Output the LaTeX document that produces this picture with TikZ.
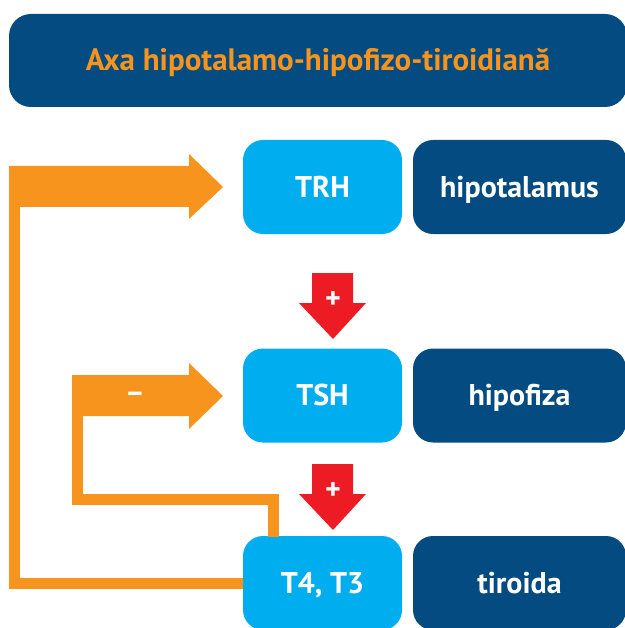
\documentclass[tikz,border=0pt]{standalone}
\usepackage{fontspec}
\setmainfont{PT Sans}
\definecolor{dblue}{HTML}{034B80}
\definecolor{lblue}{HTML}{00AEEF}
\definecolor{orng}{HTML}{F7941D}
\definecolor{rred}{HTML}{ED1C24}
\begin{document}
\begin{tikzpicture}[x=1pt,y=-1pt,
  hbox/.style={rounded corners=20pt,fill=lblue,text=white,font=\bfseries\fontsize{30}{34}\selectfont,minimum width=159pt,minimum height=94pt,inner sep=0pt,text height=20pt,text depth=0pt},
  obox/.style={rounded corners=20pt,fill=dblue,text=white,font=\bfseries\fontsize{30}{34}\selectfont,minimum width=213pt,minimum height=94pt,inner sep=0pt,text height=20pt,text depth=0pt},
  fb/.style={draw=orng,line width=11pt},
  sign/.style={text=white,font=\bfseries\fontsize{30}{30}\selectfont,inner sep=0pt}]
\useasboundingbox (0,0) rectangle (624,628);
% title
\node[rounded corners=22pt,fill=dblue,minimum width=618pt,minimum height=93pt,inner sep=0pt,
  text height=20pt,text depth=0pt,
  text=orng,font=\bfseries\fontsize{31}{34}\selectfont] (title) at (318,60.5) {Axa hipotalamo-hipofizo-tiroidiană};
% hormone boxes
\node[hbox] (trh) at (322.5,187) {TRH};
\node[hbox] (tsh) at (322.5,395.5) {TSH};
\node[hbox] (t43) at (322.5,583) {T4, T3};
\node[obox] (hyp) at (519.5,187) {hipotalamus};
\node[obox] (pit) at (519.5,395.5) {hipofiza};
\node[obox] (thy) at (519.5,583) {tiroida};
% red stimulating arrows
\foreach \n/\y in {r1/273,r2/464}{
  \fill[rred] (312,\y) -- (353,\y) -- (353,\y+30) -- (366,\y+30) -- (333,\y+66) -- (299,\y+30) -- (312,\y+30) -- cycle;
  \node[sign] (\n) at (333,\y+27) {+};
}
% orange arrows
\fill[orng] (9,166) -- (189,166) -- (189,154) -- (223,187) -- (189,219) -- (189,207) -- (9,207) -- cycle;
\fill[orng] (72,375) -- (189,375) -- (189,363) -- (223,396) -- (189,429) -- (189,416) -- (72,416) -- cycle;
\node[sign] (minus) at (135,397) {–};
\coordinate (a1) at (14.5,206);
\coordinate (a2) at (77.5,415);
% feedback lines
\draw[fb] (t43.west |- 0,583) -- (14.5,583) -- (a1);
\draw[fb] (273,537) -- (273,499) -- (77.5,499) -- (a2);
\end{tikzpicture}
\end{document}
